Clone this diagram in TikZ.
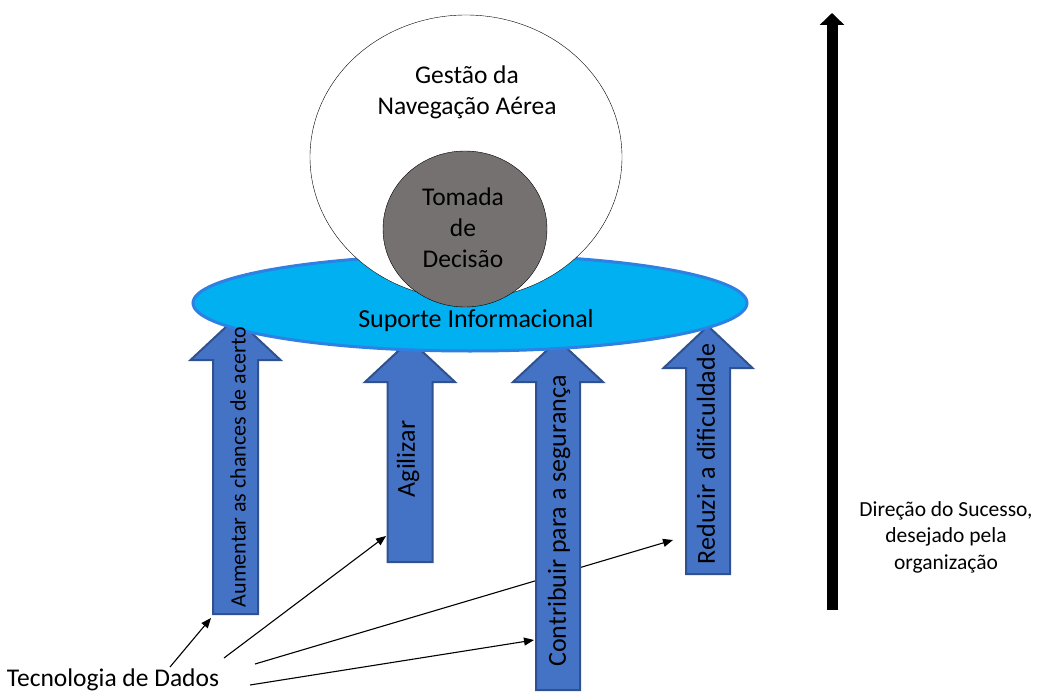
\documentclass[tikz,border=0pt]{standalone}
\usepackage{fontspec}
\setmainfont{Carlito}
\usetikzlibrary{arrows.meta}
\definecolor{skyblue}{RGB}{0,176,240}
\definecolor{rimblue}{RGB}{46,128,226}
\definecolor{arrowblue}{RGB}{68,114,196}
\definecolor{arrowrim}{RGB}{47,82,143}
\definecolor{decisiongray}{RGB}{118,113,113}

% #1 centre x, #2 half shaft, #3 half head, #4 tip y, #5 head base y, #6 bottom y
\newcommand{\upblock}[6]{%
  \draw[blockarrow] (#1-#2,#6) -- (#1-#2,#5) -- (#1-#3,#5) -- (#1,#4)
    -- (#1+#3,#5) -- (#1+#2,#5) -- (#1+#2,#6) -- cycle;}

\begin{document}
\begin{tikzpicture}[x=1pt,y=-1pt,
    blockarrow/.style={fill=arrowblue, draw=arrowrim, line width=2pt},
    uplabel/.style={rotate=90, font=\fontsize{26}{30}\selectfont},
    pointer/.style={-{Triangle[length=10pt,width=8pt]}, line width=1.1pt}]
    \useasboundingbox (0,0) rectangle (1041,695);

    \node[font=\fontsize{25.5}{30}\selectfont] (tecnologia) at (113,680) {Tecnologia de Dados};
    \coordinate (fromA) at (170,667);
    \coordinate (fromB) at (224,658);
    \coordinate (fromC) at (255,664);
    \coordinate (fromD) at (250,685);
    \coordinate (toA) at (211,618);
    \coordinate (toB) at (386,536);
    \coordinate (toC) at (673,540);
    \coordinate (toD) at (534,640);
    \draw[pointer] (fromA) -- (toA);
    \draw[pointer] (fromB) -- (toB);
    \draw[pointer] (fromC) -- (toC);
    \draw[pointer] (fromD) -- (toD);

    % block arrows
    \upblock{235.5}{22.5}{45}{318}{360}{614}
    \upblock{410}{22.5}{45}{340}{382}{562}
    \upblock{558}{22}{45}{340}{382}{690}
    \upblock{708}{22}{44.5}{326}{368}{574}

    % support, management and decision
    \draw[fill=skyblue, draw=rimblue, line width=3pt] (470,303) ellipse (277 and 48);
    \node[font=\fontsize{26}{30}\selectfont] (suporte) at (476,321) {Suporte Informacional};
    \draw[fill=white, thin] (466,157) ellipse (156 and 142);
    \node[align=center, font=\fontsize{25.5}{31}\selectfont] (gestao) at (467,92) {Gestão da\\Navegação Aérea};
    \draw[fill=decisiongray, thin] (465,229) ellipse (82 and 78);
    \node[align=center, font=\fontsize{25.5}{31}\selectfont] (decisao) at (463,228) {Tomada\\de\\Decisão};

    % labels on the arrows
    \node[uplabel, font=\fontsize{22}{26}\selectfont] (aumentar) at (238,467) {Aumentar as chances de acerto};
    \node[uplabel] (agilizar) at (408,459) {Agilizar};
    \node[uplabel] (seguranca) at (559,521) {Contribuir para a segurança};
    \node[uplabel] (reduzir) at (706,454) {Reduzir a dificuldade};

    % direction of success
    \coordinate (base) at (832,610);
    \coordinate (top) at (832,13);
    \draw[line width=11pt, -{Triangle[length=12pt,width=24pt]}] (base) -- (top);
    \node[align=center, font=\fontsize{21.5}{26.5}\selectfont] (sucesso) at (946,537) {Direção do Sucesso,\\desejado pela\\organização};
\end{tikzpicture}
\end{document}
